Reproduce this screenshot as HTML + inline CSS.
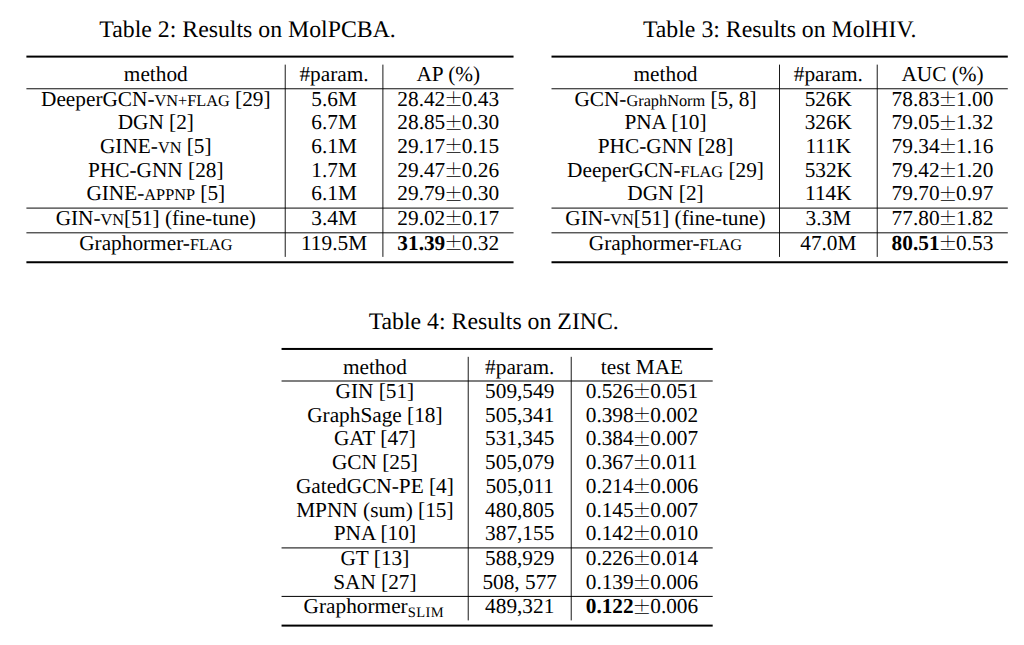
<!DOCTYPE html>
<html><head><meta charset="utf-8"><title>Tables</title>
<style>
html,body{margin:0;padding:0;background:#fff;}
body{width:1024px;height:645px;overflow:hidden;}
svg{display:block;}
text{font-family:'Liberation Serif', 'Times New Roman', serif;fill:#000;white-space:pre;text-rendering:geometricPrecision;}
.pm{font-family:'Noto Serif CJK SC','Liberation Serif',serif;}
</style></head><body>
<svg width="1024" height="645" viewBox="0 0 1024 645">
<rect x="0" y="0" width="1024" height="645" fill="#fff"/>
<text x="247.60" y="36.50" font-size="23.8" text-anchor="middle">Table 2: Results on MolPCBA.</text>
<rect x="26.40" y="55.60" width="487.15" height="2.00" fill="#000"/>
<text x="155.80" y="80.92" font-size="21.3" text-anchor="middle">method</text>
<text x="334.05" y="80.92" font-size="21.3" text-anchor="middle">#param.</text>
<text x="448.22" y="80.92" font-size="21.3" text-anchor="middle">AP (%)</text>
<rect x="26.40" y="88.30" width="487.15" height="0.95" fill="#000"/>
<text x="155.80" y="105.75" font-size="21.3" text-anchor="middle">DeeperGCN-<tspan font-size="16.3">VN+FLAG</tspan> [29]</text>
<text x="334.05" y="105.75" font-size="21.3" text-anchor="middle">5.6M</text>
<text x="445.26" y="105.75" font-size="21.3" text-anchor="end">28.42</text>
<text x="453.55" y="105.95" font-size="18.7" text-anchor="middle" class="pm">±</text>
<text x="461.84" y="105.75" font-size="21.3" text-anchor="start">0.43</text>
<text x="155.80" y="129.42" font-size="21.3" text-anchor="middle">DGN [2]</text>
<text x="334.05" y="129.42" font-size="21.3" text-anchor="middle">6.7M</text>
<text x="445.26" y="129.42" font-size="21.3" text-anchor="end">28.85</text>
<text x="453.55" y="129.62" font-size="18.7" text-anchor="middle" class="pm">±</text>
<text x="461.84" y="129.42" font-size="21.3" text-anchor="start">0.30</text>
<text x="155.80" y="153.09" font-size="21.3" text-anchor="middle">GINE-<tspan font-size="16.3">VN</tspan> [5]</text>
<text x="334.05" y="153.09" font-size="21.3" text-anchor="middle">6.1M</text>
<text x="445.26" y="153.09" font-size="21.3" text-anchor="end">29.17</text>
<text x="453.55" y="153.29" font-size="18.7" text-anchor="middle" class="pm">±</text>
<text x="461.84" y="153.09" font-size="21.3" text-anchor="start">0.15</text>
<text x="155.80" y="176.76" font-size="21.3" text-anchor="middle">PHC-GNN [28]</text>
<text x="334.05" y="176.76" font-size="21.3" text-anchor="middle">1.7M</text>
<text x="445.26" y="176.76" font-size="21.3" text-anchor="end">29.47</text>
<text x="453.55" y="176.96" font-size="18.7" text-anchor="middle" class="pm">±</text>
<text x="461.84" y="176.76" font-size="21.3" text-anchor="start">0.26</text>
<text x="155.80" y="200.43" font-size="21.3" text-anchor="middle">GINE-<tspan font-size="16.3">APPNP</tspan> [5]</text>
<text x="334.05" y="200.43" font-size="21.3" text-anchor="middle">6.1M</text>
<text x="445.26" y="200.43" font-size="21.3" text-anchor="end">29.79</text>
<text x="453.55" y="200.63" font-size="18.7" text-anchor="middle" class="pm">±</text>
<text x="461.84" y="200.43" font-size="21.3" text-anchor="start">0.30</text>
<rect x="26.40" y="207.60" width="487.15" height="0.97" fill="#000"/>
<text x="155.80" y="225.07" font-size="21.3" text-anchor="middle">GIN-<tspan font-size="16.3">VN</tspan>[51] (fine-tune)</text>
<text x="334.05" y="225.07" font-size="21.3" text-anchor="middle">3.4M</text>
<text x="445.26" y="225.07" font-size="21.3" text-anchor="end">29.02</text>
<text x="453.55" y="225.27" font-size="18.7" text-anchor="middle" class="pm">±</text>
<text x="461.84" y="225.07" font-size="21.3" text-anchor="start">0.17</text>
<rect x="26.40" y="232.35" width="487.15" height="0.95" fill="#000"/>
<text x="155.80" y="249.80" font-size="21.3" text-anchor="middle">Graphormer-<tspan font-size="16.3">FLAG</tspan></text>
<text x="334.05" y="249.80" font-size="21.3" text-anchor="middle">119.5M</text>
<text x="445.26" y="249.80" font-size="21.3" text-anchor="end" font-weight="bold">31.39</text>
<text x="453.55" y="250.00" font-size="18.7" text-anchor="middle" class="pm">±</text>
<text x="461.84" y="249.80" font-size="21.3" text-anchor="start">0.32</text>
<rect x="284.75" y="64.62" width="0.90" height="192.28" fill="#000"/>
<rect x="382.45" y="64.62" width="0.90" height="192.28" fill="#000"/>
<rect x="26.40" y="261.25" width="487.15" height="2.00" fill="#000"/>
<text x="779.70" y="36.50" font-size="23.8" text-anchor="middle">Table 3: Results on MolHIV.</text>
<rect x="551.50" y="55.60" width="456.30" height="2.00" fill="#000"/>
<text x="665.50" y="80.92" font-size="21.3" text-anchor="middle">method</text>
<text x="828.35" y="80.92" font-size="21.3" text-anchor="middle">#param.</text>
<text x="942.50" y="80.92" font-size="21.3" text-anchor="middle">AUC (%)</text>
<rect x="551.50" y="88.30" width="456.30" height="0.95" fill="#000"/>
<text x="665.50" y="105.75" font-size="21.3" text-anchor="middle">GCN-<tspan font-size="16.3">GraphNorm</tspan> [5, 8]</text>
<text x="828.35" y="105.75" font-size="21.3" text-anchor="middle">526K</text>
<text x="939.54" y="105.75" font-size="21.3" text-anchor="end">78.83</text>
<text x="947.82" y="105.95" font-size="18.7" text-anchor="middle" class="pm">±</text>
<text x="956.11" y="105.75" font-size="21.3" text-anchor="start">1.00</text>
<text x="665.50" y="129.42" font-size="21.3" text-anchor="middle">PNA [10]</text>
<text x="828.35" y="129.42" font-size="21.3" text-anchor="middle">326K</text>
<text x="939.54" y="129.42" font-size="21.3" text-anchor="end">79.05</text>
<text x="947.82" y="129.62" font-size="18.7" text-anchor="middle" class="pm">±</text>
<text x="956.11" y="129.42" font-size="21.3" text-anchor="start">1.32</text>
<text x="665.50" y="153.09" font-size="21.3" text-anchor="middle">PHC-GNN [28]</text>
<text x="828.35" y="153.09" font-size="21.3" text-anchor="middle">111K</text>
<text x="939.54" y="153.09" font-size="21.3" text-anchor="end">79.34</text>
<text x="947.82" y="153.29" font-size="18.7" text-anchor="middle" class="pm">±</text>
<text x="956.11" y="153.09" font-size="21.3" text-anchor="start">1.16</text>
<text x="665.50" y="176.76" font-size="21.3" text-anchor="middle">DeeperGCN-<tspan font-size="16.3">FLAG</tspan> [29]</text>
<text x="828.35" y="176.76" font-size="21.3" text-anchor="middle">532K</text>
<text x="939.54" y="176.76" font-size="21.3" text-anchor="end">79.42</text>
<text x="947.82" y="176.96" font-size="18.7" text-anchor="middle" class="pm">±</text>
<text x="956.11" y="176.76" font-size="21.3" text-anchor="start">1.20</text>
<text x="665.50" y="200.43" font-size="21.3" text-anchor="middle">DGN [2]</text>
<text x="828.35" y="200.43" font-size="21.3" text-anchor="middle">114K</text>
<text x="939.54" y="200.43" font-size="21.3" text-anchor="end">79.70</text>
<text x="947.82" y="200.63" font-size="18.7" text-anchor="middle" class="pm">±</text>
<text x="956.11" y="200.43" font-size="21.3" text-anchor="start">0.97</text>
<rect x="551.50" y="207.60" width="456.30" height="0.97" fill="#000"/>
<text x="665.50" y="225.07" font-size="21.3" text-anchor="middle">GIN-<tspan font-size="16.3">VN</tspan>[51] (fine-tune)</text>
<text x="828.35" y="225.07" font-size="21.3" text-anchor="middle">3.3M</text>
<text x="939.54" y="225.07" font-size="21.3" text-anchor="end">77.80</text>
<text x="947.82" y="225.27" font-size="18.7" text-anchor="middle" class="pm">±</text>
<text x="956.11" y="225.07" font-size="21.3" text-anchor="start">1.82</text>
<rect x="551.50" y="232.35" width="456.30" height="0.95" fill="#000"/>
<text x="665.50" y="249.80" font-size="21.3" text-anchor="middle">Graphormer-<tspan font-size="16.3">FLAG</tspan></text>
<text x="828.35" y="249.80" font-size="21.3" text-anchor="middle">47.0M</text>
<text x="939.54" y="249.80" font-size="21.3" text-anchor="end" font-weight="bold">80.51</text>
<text x="947.82" y="250.00" font-size="18.7" text-anchor="middle" class="pm">±</text>
<text x="956.11" y="249.80" font-size="21.3" text-anchor="start">0.53</text>
<rect x="779.05" y="64.62" width="0.90" height="192.28" fill="#000"/>
<rect x="876.75" y="64.62" width="0.90" height="192.28" fill="#000"/>
<rect x="551.50" y="261.25" width="456.30" height="2.00" fill="#000"/>
<text x="493.75" y="328.70" font-size="23.8" text-anchor="middle">Table 4: Results on ZINC.</text>
<rect x="281.55" y="347.95" width="431.15" height="2.00" fill="#000"/>
<text x="374.88" y="373.92" font-size="21.3" text-anchor="middle">method</text>
<text x="519.70" y="373.92" font-size="21.3" text-anchor="middle">#param.</text>
<text x="641.95" y="373.92" font-size="21.3" text-anchor="middle">test MAE</text>
<rect x="281.55" y="380.50" width="431.15" height="1.00" fill="#000"/>
<text x="374.88" y="398.00" font-size="21.3" text-anchor="middle">GIN [51]</text>
<text x="519.70" y="398.00" font-size="21.3" text-anchor="middle">509,549</text>
<text x="633.66" y="398.00" font-size="21.3" text-anchor="end">0.526</text>
<text x="641.95" y="398.20" font-size="18.7" text-anchor="middle" class="pm">±</text>
<text x="650.24" y="398.00" font-size="21.3" text-anchor="start">0.051</text>
<text x="374.88" y="421.70" font-size="21.3" text-anchor="middle">GraphSage [18]</text>
<text x="519.70" y="421.70" font-size="21.3" text-anchor="middle">505,341</text>
<text x="633.66" y="421.70" font-size="21.3" text-anchor="end">0.398</text>
<text x="641.95" y="421.90" font-size="18.7" text-anchor="middle" class="pm">±</text>
<text x="650.24" y="421.70" font-size="21.3" text-anchor="start">0.002</text>
<text x="374.88" y="445.40" font-size="21.3" text-anchor="middle">GAT [47]</text>
<text x="519.70" y="445.40" font-size="21.3" text-anchor="middle">531,345</text>
<text x="633.66" y="445.40" font-size="21.3" text-anchor="end">0.384</text>
<text x="641.95" y="445.60" font-size="18.7" text-anchor="middle" class="pm">±</text>
<text x="650.24" y="445.40" font-size="21.3" text-anchor="start">0.007</text>
<text x="374.88" y="469.10" font-size="21.3" text-anchor="middle">GCN [25]</text>
<text x="519.70" y="469.10" font-size="21.3" text-anchor="middle">505,079</text>
<text x="633.66" y="469.10" font-size="21.3" text-anchor="end">0.367</text>
<text x="641.95" y="469.30" font-size="18.7" text-anchor="middle" class="pm">±</text>
<text x="650.24" y="469.10" font-size="21.3" text-anchor="start">0.011</text>
<text x="374.88" y="492.81" font-size="21.3" text-anchor="middle">GatedGCN-PE [4]</text>
<text x="519.70" y="492.81" font-size="21.3" text-anchor="middle">505,011</text>
<text x="633.66" y="492.81" font-size="21.3" text-anchor="end">0.214</text>
<text x="641.95" y="493.01" font-size="18.7" text-anchor="middle" class="pm">±</text>
<text x="650.24" y="492.81" font-size="21.3" text-anchor="start">0.006</text>
<text x="374.88" y="516.51" font-size="21.3" text-anchor="middle">MPNN (sum) [15]</text>
<text x="519.70" y="516.51" font-size="21.3" text-anchor="middle">480,805</text>
<text x="633.66" y="516.51" font-size="21.3" text-anchor="end">0.145</text>
<text x="641.95" y="516.71" font-size="18.7" text-anchor="middle" class="pm">±</text>
<text x="650.24" y="516.51" font-size="21.3" text-anchor="start">0.007</text>
<text x="374.88" y="540.21" font-size="21.3" text-anchor="middle">PNA [10]</text>
<text x="519.70" y="540.21" font-size="21.3" text-anchor="middle">387,155</text>
<text x="633.66" y="540.21" font-size="21.3" text-anchor="end">0.142</text>
<text x="641.95" y="540.41" font-size="18.7" text-anchor="middle" class="pm">±</text>
<text x="650.24" y="540.21" font-size="21.3" text-anchor="start">0.010</text>
<rect x="281.55" y="547.41" width="431.15" height="1.00" fill="#000"/>
<text x="374.88" y="564.91" font-size="21.3" text-anchor="middle">GT [13]</text>
<text x="519.70" y="564.91" font-size="21.3" text-anchor="middle">588,929</text>
<text x="633.66" y="564.91" font-size="21.3" text-anchor="end">0.226</text>
<text x="641.95" y="565.11" font-size="18.7" text-anchor="middle" class="pm">±</text>
<text x="650.24" y="564.91" font-size="21.3" text-anchor="start">0.014</text>
<text x="374.88" y="588.65" font-size="21.3" text-anchor="middle">SAN [27]</text>
<text x="519.70" y="588.65" font-size="21.3" text-anchor="middle">508, 577</text>
<text x="633.66" y="588.65" font-size="21.3" text-anchor="end">0.139</text>
<text x="641.95" y="588.86" font-size="18.7" text-anchor="middle" class="pm">±</text>
<text x="650.24" y="588.65" font-size="21.3" text-anchor="start">0.006</text>
<rect x="281.55" y="595.90" width="431.15" height="1.00" fill="#000"/>
<text x="373.88" y="613.40" font-size="21.3" text-anchor="middle">Graphormer<tspan font-size="14.5" dy="3.3" letter-spacing="0.45">SLIM</tspan></text>
<text x="519.70" y="613.40" font-size="21.3" text-anchor="middle">489,321</text>
<text x="633.66" y="613.40" font-size="21.3" text-anchor="end" font-weight="bold">0.122</text>
<text x="641.95" y="613.60" font-size="18.7" text-anchor="middle" class="pm">±</text>
<text x="650.24" y="613.40" font-size="21.3" text-anchor="start">0.006</text>
<rect x="467.75" y="356.82" width="0.90" height="263.58" fill="#000"/>
<rect x="570.75" y="356.82" width="0.90" height="263.58" fill="#000"/>
<rect x="281.55" y="624.60" width="431.15" height="2.00" fill="#000"/>
</svg>
</body></html>
